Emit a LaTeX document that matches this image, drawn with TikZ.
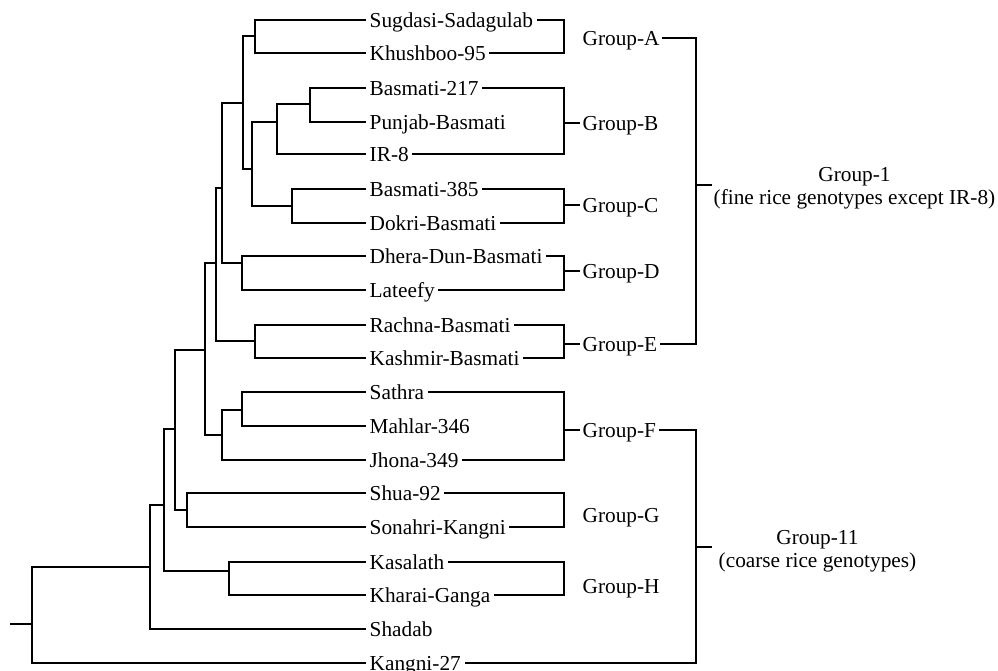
\documentclass[tikz,border=0pt]{standalone}
\usepackage{fontspec}
\setmainfont{Liberation Serif}
\begin{document}
\begin{tikzpicture}[x=1pt,y=-1pt,line width=1.4pt,
  lf/.style={anchor=west,inner xsep=3pt,inner ysep=0pt,text height=14.1pt,text depth=0pt,font=\fontsize{21.3}{24}\selectfont},
  grp/.style={anchor=west,inner xsep=2pt,inner ysep=0pt,text height=14.1pt,text depth=0pt,font=\fontsize{21.3}{24}\selectfont},
  big/.style={anchor=west,align=center,inner ysep=0pt,font=\fontsize{21.3}{23.5}\selectfont}]
\useasboundingbox (0,0) rectangle (998,671);
% leaves
\node[lf] (l1) at (366,20) {Sugdasi-Sadagulab};
\node[lf] (l2) at (366,53) {Khushboo-95};
\node[lf] (l3) at (366,88) {Basmati-217};
\node[lf] (l4) at (366,122) {Punjab-Basmati};
\node[lf] (l5) at (366,154) {IR-8};
\node[lf] (l6) at (366,189) {Basmati-385};
\node[lf] (l7) at (366,223) {Dokri-Basmati};
\node[lf] (l8) at (366,256) {Dhera-Dun-Basmati};
\node[lf] (l9) at (366,290) {Lateefy};
\node[lf] (l10) at (366,325) {Rachna-Basmati};
\node[lf] (l11) at (366,358) {Kashmir-Basmati};
\node[lf] (l12) at (366,392) {Sathra};
\node[lf] (l13) at (366,426) {Mahlar-346};
\node[lf] (l14) at (366,460) {Jhona-349};
\node[lf] (l15) at (366,493) {Shua-92};
\node[lf] (l16) at (366,527) {Sonahri-Kangni};
\node[lf] (l17) at (366,562) {Kasalath};
\node[lf] (l18) at (366,595) {Kharai-Ganga};
\node[lf] (l19) at (366,629) {Shadab};
\node[lf] (l20) at (366,663) {Kangni-27};
% internal nodes
\coordinate (nA) at (255,36);
\coordinate (nB1) at (310,104);
\coordinate (nB) at (277,122);
\coordinate (nC) at (292,206);
\coordinate (nBC) at (252,169);
\coordinate (nABC) at (243,103);
\coordinate (nD) at (242,263);
\coordinate (nABCD) at (222,188);
\coordinate (nE) at (255,341);
\coordinate (nAE) at (216,263);
\coordinate (nF1) at (242,410);
\coordinate (nF) at (222,435);
\coordinate (nAF) at (205,350);
\coordinate (nG) at (187,510);
\coordinate (nAG) at (175,429);
\coordinate (nH) at (229,571);
\coordinate (nAH) at (164,505);
\coordinate (nAS) at (150,567);
\coordinate (root) at (32,624);
\coordinate (stub) at (10,624);
% tree
\draw (l1.west) -| (nA) |- (l2.west);
\draw (l3.west) -| (nB1) |- (l4.west);
\draw (nB1) -| (nB) |- (l5.west);
\draw (l6.west) -| (nC) |- (l7.west);
\draw (nB) -| (nBC) |- (nC);
\draw (nA) -| (nABC) |- (nBC);
\draw (l8.west) -| (nD) |- (l9.west);
\draw (nABC) -| (nABCD) |- (nD);
\draw (l10.west) -| (nE) |- (l11.west);
\draw (nABCD) -| (nAE) |- (nE);
\draw (l12.west) -| (nF1) |- (l13.west);
\draw (nF1) -| (nF) |- (l14.west);
\draw (nAE) -| (nAF) |- (nF);
\draw (l15.west) -| (nG) |- (l16.west);
\draw (nAF) -| (nAG) |- (nG);
\draw (l17.west) -| (nH) |- (l18.west);
\draw (nAG) -| (nAH) |- (nH);
\draw (nAH) -| (nAS) |- (l19.west);
\draw (nAS) -| (root) |- (l20.west);
\draw (stub) -- (root);
% group labels
\node[grp] (gA) at (580,38) {Group-A};
\node[grp] (gB) at (580,123) {Group-B};
\node[grp] (gC) at (580,205) {Group-C};
\node[grp] (gD) at (580,271) {Group-D};
\node[grp] (gE) at (580,344) {Group-E};
\node[grp] (gF) at (580,430) {Group-F};
\node[grp] (gG) at (580,515) {Group-G};
\node[grp] (gH) at (580,586) {Group-H};
\coordinate (bA) at (564,36);
\coordinate (bB) at (564,123);
\coordinate (bC) at (564,205);
\coordinate (bD) at (564,271);
\coordinate (bE) at (564,344);
\coordinate (bF) at (564,430);
\coordinate (bG) at (564,510);
\coordinate (bH) at (564,578);
\draw (l1.east) -| (bA) |- (l2.east);
\draw (l3.east) -| (bB) |- (l5.east);
\draw (bB) -- (gB.west);
\draw (l6.east) -| (bC) |- (l7.east);
\draw (bC) -- (gC.west);
\draw (l8.east) -| (bD) |- (l9.east);
\draw (bD) -- (gD.west);
\draw (l10.east) -| (bE) |- (l11.east);
\draw (bE) -- (gE.west);
\draw (l12.east) -| (bF) |- (l14.east);
\draw (bF) -- (gF.west);
\draw (l15.east) -| (bG) |- (l16.east);
\draw (l17.east) -| (bH) |- (l18.east);
% big groups
\coordinate (g1) at (696,185);
\draw (gA.east) -| (g1) |- (gE.east);
\node[big,inner xsep=1pt] (t1) at (712,188) {Group-1\\(fine rice genotypes except IR-8)};
\draw (g1) -- (t1.west |- g1);
\coordinate (g11) at (696,547);
\draw (gF.east) -| (g11) |- (l20.east);
\node[big,inner xsep=6pt] (t11) at (712,551) {Group-11\\(coarse rice genotypes)};
\draw (g11) -- (t11.west |- g11);
\end{tikzpicture}
\end{document}
